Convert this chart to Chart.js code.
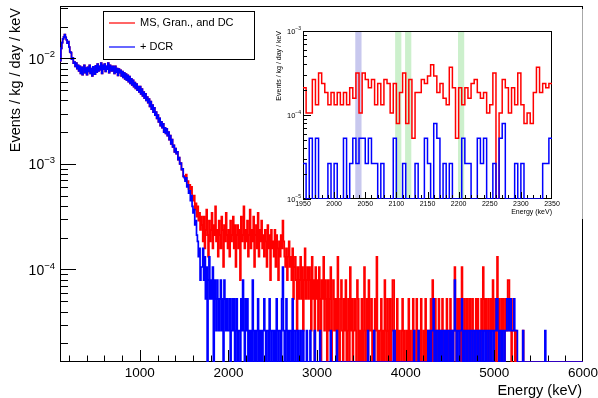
<!DOCTYPE html>
<html>
<head>
<meta charset="utf-8">
<script src="https://cdn.jsdelivr.net/npm/chart.js@4.4.0/dist/chart.umd.min.js"></script>
<style>
  html, body { margin: 0; padding: 0; background: #fff; }
  #wrap { position: relative; width: 598px; height: 398px; overflow: hidden; }
  #main { position: absolute; left: 0; top: 0; }
  #inset { position: absolute; left: 265px; top: 9px; }
</style>
</head>
<body>
<div id="wrap">
  <canvas id="main" width="598" height="398"></canvas>
  <canvas id="inset" width="319" height="210"></canvas>
</div>
<script>
// ---------------------------------------------------------------------------
// Spectrum data
// ---------------------------------------------------------------------------
// One event in a 5 keV bin corresponds to this rate (events / kg / day / keV).
const RATE_PER_COUNT = 2.64e-5;

// Main spectrum: 10 keV display bins starting at 100 keV.
const MAIN_START = 100, MAIN_BIN = 10;

// 100-1500 keV, both selections (units of 1e-4 events / kg / day / keV)
const lowEnergyRate = [
  95,124,141,153,160,168,158,150,139,144,
  128,115,113,98,101,90,92,84,90,80,
  86,76,84,72,82,70,80,86,73,81,
  70,82,75,86,72,80,68,83,77,71,
  85,74,88,76,84,78,90,72,86,79,
  88,75,84,79,90,73,86,81,76,84,
  78,72,84,74,80,69,79,73,77,68,
  75,66,73,64,71,62,69,60,67,58,
  64,56,62,54,59,52,57,50,54,48,
  54,46,51,44,48,42,46,40,43,38,
  41,35,39,33,36,31,34,29,31,27,
  29,25,27,23,25,22,24,20,22,19.5,
  21.5,18.5,20,17,18.5,15.5,17,14.5,15,13,
  14,12.5,13,11,11.5,10,10.2,8.8,9,7.6
];

// 1500-6000 keV, "MS, Gran., and DC" (counts per bin), one row per 100 keV
const redTailCounts = [
  29,27,30,25,26,22,24,20,23,18,
  17,19,14,16,12,15,11,13,9,12,
  10,7,12,6,9,14,8,5,11,7,
  9,13,6,10,8,15,7,9,5,11,
  8,6,12,9,4,10,7,13,8,6,
  9,5,11,7,8,12,6,10,4,8,
  10,6,9,3,12,7,8,15,6,9,
  7,11,5,8,14,6,9,7,12,4,
  8,10,6,13,5,9,7,11,6,8,
  5,9,7,4,10,6,8,3,9,6,
  7,5,9,4,8,6,3,7,5,8,
  6,11,7,5,4,6,3,5,7,4,
  5,3,6,2,4,5,3,1,4,2,
  3,5,2,4,1,3,6,2,3,4,
  2,4,3,1,5,2,3,0,4,2,
  3,1,4,2,0,3,2,5,1,3,
  2,0,3,1,2,4,0,1,3,2,
  1,2,0,5,1,0,2,3,1,0,
  2,1,3,0,1,2,0,4,1,2,
  0,1,2,1,0,3,2,0,1,0,
  2,0,1,4,0,1,2,0,3,1,
  1,2,0,1,0,2,1,5,0,1,
  0,1,2,0,1,0,3,1,0,2,
  1,0,2,0,1,3,3,0,1,0,
  2,0,1,0,0,1,2,0,1,0,
  0,1,0,2,0,1,0,0,2,1,
  0,0,2,1,0,1,0,2,0,0,
  1,0,2,0,1,0,0,1,2,0,
  3,1,0,2,1,0,1,2,0,1,
  0,2,1,0,1,0,2,1,0,1,
  2,0,1,0,1,4,1,0,2,1,
  2,1,0,4,1,0,2,1,0,2,
  1,0,2,1,0,2,1,0,1,2,
  0,2,1,0,1,2,0,4,2,1,
  2,1,0,2,1,0,2,1,3,0,
  1,2,0,5,1,2,0,1,2,1,
  2,0,1,2,1,3,3,2,1,0,
  1,2,1,0,1,0,0,0,0,0,
  0,0,1,0,0,0,0,0,0,0,
  0,0,0,0,0,0,0,0,0,0,
  0,0,0,0,0,0,0,0,0,0,
  0,0,0,0,0,0,0,0,0,0,
  0,0,0,0,0,0,0,0,0,0,
  0,0,0,0,0,0,0,0,0,0,
  0,0,0,0,0,0,0,0,0,0
];

// 1500-6000 keV, "+ DCR" (counts per bin), one row per 100 keV
const blueTailCounts = [
  28,26,28,23,24,20,21,17,19,15,
  13,14,10,11,8,7,5,6,3,4,
  4,6,3,5,2,4,0,3,5,2,
  3,2,4,0,3,2,1,3,2,1,
  2,3,1,2,0,3,2,1,2,1,
  1,2,0,1,2,1,2,0,1,2,
  0,1,1,0,2,1,3,1,0,2,
  1,2,0,1,0,1,0,3,1,0,
  1,0,1,2,0,1,0,1,0,1,
  2,1,0,1,1,0,2,1,0,1,
  1,0,1,0,2,1,0,1,1,0,
  2,4,1,0,1,2,0,1,0,1,
  1,0,2,0,1,1,0,0,1,0,
  0,1,0,0,1,0,0,0,1,0,
  0,0,1,0,0,0,0,1,0,0,
  0,0,0,1,0,0,0,0,0,0,
  0,0,0,0,0,1,0,0,0,0,
  0,0,1,0,0,0,0,0,0,0,
  0,0,0,0,0,0,0,0,0,0,
  0,0,0,0,0,0,0,0,0,0,
  0,0,0,0,0,0,0,1,0,0,
  0,0,0,0,1,0,0,0,0,0,
  0,0,0,0,0,0,0,0,0,0,
  0,0,0,0,0,0,1,1,0,0,
  0,0,0,0,0,0,0,0,0,0,
  0,0,0,0,0,0,0,0,0,1,
  0,0,0,0,1,0,0,0,0,0,
  0,0,0,0,0,1,0,1,0,1,
  1,2,0,1,0,1,1,0,1,0,
  1,0,1,1,0,1,0,1,1,0,
  1,0,1,0,1,3,1,0,1,1,
  0,1,1,2,0,1,0,1,1,0,
  1,1,0,1,1,0,1,1,0,1,
  1,0,1,1,0,1,1,0,1,1,
  0,1,1,0,1,1,0,1,1,0,
  1,1,2,2,1,0,1,1,0,1,
  1,0,1,1,2,2,1,2,2,1,
  1,1,2,1,1,1,0,0,0,0,
  0,0,1,0,0,0,0,0,0,0,
  0,0,0,0,0,0,0,0,0,0,
  0,0,0,0,0,0,0,1,0,0,
  0,0,0,0,0,0,0,0,0,0,
  0,0,0,0,0,0,0,0,0,0,
  0,0,0,0,0,0,0,0,0,0,
  0,0,0,0,0,0,0,0,0,0
];

// Zoomed window 1950-2350 keV, 5 keV bins (counts per bin)
const INSET_START = 1950, INSET_BIN = 5;
const insetRedCounts = [
  8,4,4,10,5,12,9,7,5,7,
  5,7,5,7,5,8,6,12,4,12,
  10,8,10,5,9,5,10,9,4,9,
  3,7,12,3,10,2,7,7,10,9,
  11,15,11,7,9,6,5,14,8,2,
  8,5,8,6,9,10,7,6,7,4,
  5,12,0,4,10,8,4,8,5,12,
  5,3,4,3,7,14,7,9,8,9
];
const insetBlueCounts = [
  1,0,2,0,2,0,0,0,1,0,
  1,0,0,2,0,1,2,1,2,2,
  1,2,1,1,0,1,0,0,0,2,
  0,0,1,0,0,0,1,0,0,2,
  1,0,3,2,0,1,0,1,0,0,
  0,2,1,1,0,0,2,1,2,0,
  0,1,0,2,3,0,0,0,1,0,
  1,0,0,0,0,0,0,1,1,2
];

// Highlighted energy windows in the zoomed view (keV)
const bandLow    = [2034, 2098, 2114, 2199];
const bandHigh   = [2044, 2108, 2124, 2209];
const bandColors = ['rgb(200,200,238)', 'rgb(204,240,204)', 'rgb(204,240,204)', 'rgb(204,240,204)'];

// Axis ranges and labelled ticks
const MAIN_X_MIN = 100, MAIN_X_MAX = 6000;
const MAIN_Y_MIN = 1.33e-5, MAIN_Y_MAX = 0.0313;
const mainXTicks = [1000, 2000, 3000, 4000, 5000, 6000];
const mainYDecades = [-2, -3, -4];
const INSET_Y_MIN = 1e-5, INSET_Y_MAX = 1e-3;
const insetXTicks = [1950, 2000, 2050, 2100, 2150, 2200, 2250, 2300, 2350];
const insetYDecades = [-3, -4, -5];

const seriesLabels = ['MS, Gran., and DC', '+ DCR'];
const seriesColors = ['#ff0000', '#0000ff'];

// ---------------------------------------------------------------------------
// Helpers
// ---------------------------------------------------------------------------
const FONT = '"Liberation Sans", Arial, Helvetica, sans-serif';

// Histogram bins -> points at low edges, plus the closing upper edge.
function stepPoints(start, width, values, floor) {
  const pts = values.map((v, i) => ({ x: start + i * width, y: v > 0 ? v : floor }));
  pts.push({ x: start + values.length * width, y: pts[pts.length - 1].y });
  return pts;
}

function drawText(ctx, str, x, y, size, align, baseline, angle) {
  ctx.save();
  ctx.translate(x, y);
  if (angle) ctx.rotate(angle);
  ctx.font = size + 'px ' + FONT;
  ctx.textAlign = align;
  ctx.textBaseline = baseline;
  ctx.fillStyle = '#000';
  ctx.fillText(str, 0, 0);
  ctx.restore();
}

// "10" with a raised exponent, right-aligned at xRight
function drawPower(ctx, exp, xRight, y, baseSize, expSize, baseDy, expDy) {
  const e = '\u2212' + Math.abs(exp);
  ctx.save();
  ctx.font = expSize + 'px ' + FONT;
  const ew = ctx.measureText(e).width;
  ctx.restore();
  drawText(ctx, e, xRight, y + expDy, expSize, 'right', 'middle');
  drawText(ctx, '10', xRight - ew, y + baseDy, baseSize, 'right', 'middle');
}

function line(ctx, x1, y1, x2, y2) {
  ctx.beginPath();
  ctx.moveTo(x1, y1);
  ctx.lineTo(x2, y2);
  ctx.stroke();
}

function logMinorValues(minV, maxV) {
  const out = [];
  for (let d = Math.floor(Math.log10(minV)); d <= Math.ceil(Math.log10(maxV)); d++) {
    for (let m = 1; m <= 9; m++) {
      const v = m * Math.pow(10, d);
      if (v >= minV && v <= maxV) out.push({ v, major: m === 1 });
    }
  }
  return out;
}

// ---------------------------------------------------------------------------
// Main spectrum
// ---------------------------------------------------------------------------
const redValues = lowEnergyRate.map(v => v * 1e-4).concat(redTailCounts.map(c => c * RATE_PER_COUNT));
const blueValues = lowEnergyRate.map(v => v * 1e-4).concat(blueTailCounts.map(c => c * RATE_PER_COUNT));

const mainDecor = {
  id: 'mainDecor',
  beforeDatasetsDraw(chart) {
    const { ctx, chartArea: a } = chart;
    ctx.save();
    ctx.strokeStyle = '#000';
    ctx.lineWidth = 1;
    ctx.strokeRect(a.left + 0.5, a.top + 0.5, a.right - a.left - 1, a.bottom - a.top - 1);
    ctx.restore();
  },
  afterDatasetsDraw(chart) {
    const { ctx, chartArea: a, scales: { x, y } } = chart;
    ctx.save();
    ctx.strokeStyle = '#000';
    ctx.lineWidth = 1;
    // x ticks (inside the frame, bottom edge)
    for (let e = 200; e < MAIN_X_MAX; e += 200) {
      if (e < MAIN_X_MIN) continue;
      const px = Math.round(x.getPixelForValue(e)) + 0.5;
      const len = mainXTicks.includes(e) ? 11 : 5.5;
      line(ctx, px, a.bottom - 1, px, a.bottom - 1 - len);
    }
    // y ticks (inside the frame, left edge)
    logMinorValues(MAIN_Y_MIN, MAIN_Y_MAX).forEach(t => {
      const py = Math.round(y.getPixelForValue(t.v)) + 0.5;
      line(ctx, a.left, py, a.left + (t.major ? 16 : 8), py);
    });
    ctx.restore();

    // tick labels
    mainXTicks.forEach(v => drawText(ctx, String(v), x.getPixelForValue(v), a.bottom + 11, 13.5, 'center', 'middle'));
    mainYDecades.forEach(d => drawPower(ctx, d, 55, y.getPixelForValue(Math.pow(10, d)), 14, 9.5, 1.5, -3.5));

    // axis titles
    drawText(ctx, 'Energy (keV)', 582, 391, 14.5, 'right', 'middle');
    drawText(ctx, 'Events / kg / day / keV', 15.5, 8, 14.5, 'right', 'middle', -Math.PI / 2);

    // legend
    ctx.save();
    ctx.fillStyle = '#fff';
    ctx.fillRect(103.5, 11.5, 151, 48);
    ctx.strokeStyle = '#000';
    ctx.lineWidth = 1;
    ctx.strokeRect(103.5, 11.5, 151, 48);
    chart.data.datasets.slice().sort((p, q) => p.legendOrder - q.legendOrder).forEach((ds, i) => {
      const ly = 23 + i * 24;
      ctx.strokeStyle = ds.borderColor;
      ctx.lineWidth = 1.2;
      line(ctx, 109, ly, 135, ly);
      drawText(ctx, ds.label, 140, ly, 11, 'left', 'middle');
    });
    ctx.restore();
  }
};

new Chart(document.getElementById('main'), {
  type: 'line',
  data: {
    datasets: [
      {
        label: seriesLabels[1], legendOrder: 1, order: 0,
        data: stepPoints(MAIN_START, MAIN_BIN, blueValues, MAIN_Y_MIN),
        borderColor: seriesColors[1], borderWidth: 1.7, stepped: true, pointRadius: 0
      },
      {
        label: seriesLabels[0], legendOrder: 0, order: 1,
        data: stepPoints(MAIN_START, MAIN_BIN, redValues, MAIN_Y_MIN),
        borderColor: seriesColors[0], borderWidth: 1.7, stepped: true, pointRadius: 0
      }
    ]
  },
  options: {
    responsive: false,
    animation: false,
    devicePixelRatio: 1,
    events: [],
    layout: { padding: { left: 60, top: 6, right: 15, bottom: 36 } },
    plugins: { legend: { display: false }, tooltip: { enabled: false } },
    scales: {
      x: { type: 'linear', min: MAIN_X_MIN, max: MAIN_X_MAX, display: false },
      y: { type: 'logarithmic', min: MAIN_Y_MIN, max: MAIN_Y_MAX, display: false }
    }
  },
  plugins: [mainDecor]
});

// ---------------------------------------------------------------------------
// Zoomed window 1950-2350 keV
// ---------------------------------------------------------------------------
const insetDecor = {
  id: 'insetDecor',
  beforeDraw(chart) {
    const { ctx, width, height } = chart;
    ctx.save();
    ctx.fillStyle = '#fff';
    ctx.fillRect(0, 0, width, height);
    ctx.strokeStyle = '#a8a8a8';
    ctx.lineWidth = 1;
    line(ctx, width - 1.5, 0, width - 1.5, height);
    ctx.restore();
  },
  beforeDatasetsDraw(chart) {
    const { ctx, chartArea: a, scales: { x } } = chart;
    ctx.save();
    bandLow.forEach((lo, i) => {
      const x1 = x.getPixelForValue(lo), x2 = x.getPixelForValue(bandHigh[i]);
      ctx.fillStyle = bandColors[i];
      ctx.fillRect(x1, a.top, x2 - x1, a.bottom - a.top);
    });
    ctx.strokeStyle = '#000';
    ctx.lineWidth = 1;
    ctx.strokeRect(a.left + 0.5, a.top + 0.5, a.right - a.left - 1, a.bottom - a.top - 1);
    ctx.restore();
  },
  afterDatasetsDraw(chart) {
    const { ctx, chartArea: a, scales: { x, y } } = chart;
    ctx.save();
    ctx.strokeStyle = '#000';
    ctx.lineWidth = 1;
    for (let e = INSET_START + 10; e < 2350; e += 10) {
      const px = Math.round(x.getPixelForValue(e)) + 0.5;
      const len = insetXTicks.includes(e) ? 6 : 3;
      line(ctx, px, a.bottom - 1, px, a.bottom - 1 - len);
    }
    logMinorValues(INSET_Y_MIN, INSET_Y_MAX).forEach(t => {
      const py = Math.round(y.getPixelForValue(t.v)) + 0.5;
      line(ctx, a.left, py, a.left + (t.major ? 8 : 4), py);
    });
    ctx.restore();

    insetXTicks.forEach(v => drawText(ctx, String(v), x.getPixelForValue(v), a.bottom + 5.5, 7, 'center', 'middle'));
    insetYDecades.forEach(d => drawPower(ctx, d, a.left - 2, y.getPixelForValue(Math.pow(10, d)), 7.5, 5, 1, -2.5));

    drawText(ctx, 'Energy (keV)', a.right, a.bottom + 13.5, 7, 'right', 'middle');
    drawText(ctx, 'Events / kg / day / keV', 14.5, a.top, 7, 'right', 'middle', -Math.PI / 2);
  }
};

new Chart(document.getElementById('inset'), {
  type: 'line',
  data: {
    datasets: [
      {
        label: seriesLabels[1], order: 0,
        data: stepPoints(INSET_START, INSET_BIN, insetBlueCounts.map(c => c * RATE_PER_COUNT), INSET_Y_MIN),
        borderColor: seriesColors[1], borderWidth: 1.5, stepped: true, pointRadius: 0
      },
      {
        label: seriesLabels[0], order: 1,
        data: stepPoints(INSET_START, INSET_BIN, insetRedCounts.map(c => c * RATE_PER_COUNT), INSET_Y_MIN),
        borderColor: seriesColors[0], borderWidth: 1.5, stepped: true, pointRadius: 0
      }
    ]
  },
  options: {
    responsive: false,
    animation: false,
    devicePixelRatio: 1,
    events: [],
    layout: { padding: { left: 38, top: 22, right: 32, bottom: 20 } },
    plugins: { legend: { display: false }, tooltip: { enabled: false } },
    scales: {
      x: { type: 'linear', min: INSET_START, max: 2350, display: false },
      y: { type: 'logarithmic', min: INSET_Y_MIN, max: INSET_Y_MAX, display: false }
    }
  },
  plugins: [insetDecor]
});
</script>
</body>
</html>
